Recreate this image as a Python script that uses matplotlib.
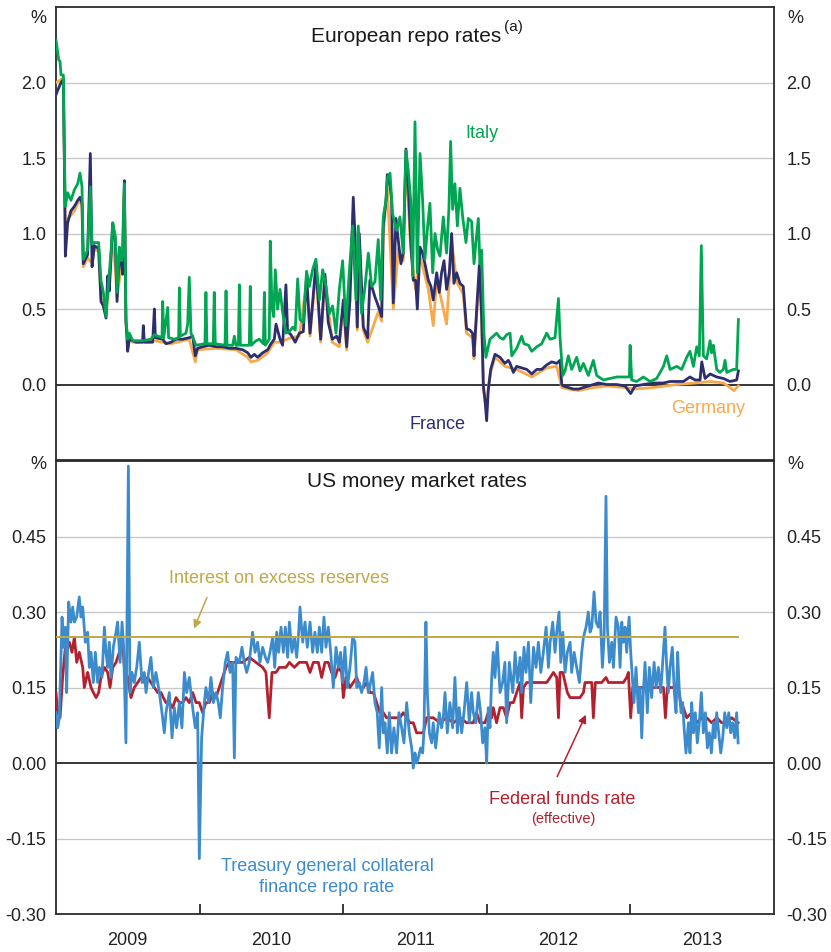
#Libraries
import numpy as np
import matplotlib
matplotlib.use("Agg")
import matplotlib.pyplot as plt

plt.rcParams['font.family'] = ['Liberation Sans', 'DejaVu Sans']

#Data (dates as decimal years)
italy_t = [2009.000, 2009.019, 2009.028, 2009.035, 2009.051, 2009.058, 2009.065, 2009.081, 2009.104, 2009.128,
           2009.151, 2009.167, 2009.181, 2009.190, 2009.220, 2009.239, 2009.251, 2009.267, 2009.297, 2009.313,
           2009.330, 2009.348, 2009.367, 2009.383, 2009.395, 2009.413, 2009.425, 2009.441, 2009.455, 2009.464,
           2009.476, 2009.487, 2009.499, 2009.511, 2009.534, 2009.603, 2009.661, 2009.685, 2009.738, 2009.743,
           2009.750, 2009.778, 2009.784, 2009.824, 2009.854, 2009.859, 2009.866, 2009.905, 2009.917, 2009.928,
           2009.940, 2009.975, 2010.037, 2010.044, 2010.051, 2010.095, 2010.102, 2010.109, 2010.177, 2010.184,
           2010.191, 2010.230, 2010.242, 2010.253, 2010.270, 2010.277, 2010.284, 2010.346, 2010.353, 2010.360,
           2010.393, 2010.416, 2010.444, 2010.451, 2010.458, 2010.485, 2010.492, 2010.504, 2010.516, 2010.527,
           2010.543, 2010.560, 2010.578, 2010.601, 2010.625, 2010.648, 2010.666, 2010.683,
           2010.699, 2010.722, 2010.745, 2010.764, 2010.787, 2010.810, 2010.834, 2010.857, 2010.880, 2010.903,
           2010.926, 2010.950, 2010.973, 2010.996, 2011.019, 2011.042, 2011.066, 2011.089, 2011.105, 2011.128,
           2011.152, 2011.175, 2011.198, 2011.221, 2011.244, 2011.261, 2011.279, 2011.298, 2011.309, 2011.326,
           2011.344, 2011.372, 2011.395, 2011.418, 2011.437, 2011.453, 2011.470, 2011.484, 2011.500, 2011.516,
           2011.535, 2011.553, 2011.569, 2011.588, 2011.604, 2011.623, 2011.639, 2011.658, 2011.674, 2011.697,
           2011.720, 2011.736, 2011.748, 2011.762, 2011.778, 2011.795, 2011.813, 2011.832, 2011.855, 2011.871,
           2011.894, 2011.911, 2011.924, 2011.941, 2011.952, 2011.964, 2011.980, 2011.994, 2012.022, 2012.045,
           2012.068, 2012.092, 2012.115, 2012.138,
           2012.162, 2012.174, 2012.208, 2012.243, 2012.259, 2012.290, 2012.313, 2012.348, 2012.382, 2012.417,
           2012.441, 2012.475, 2012.499, 2012.510, 2012.529, 2012.545, 2012.568, 2012.591, 2012.626, 2012.649,
           2012.673, 2012.707, 2012.742, 2012.765, 2012.812, 2012.858, 2012.905, 2012.963, 2012.993, 2012.998,
           2013.009, 2013.044, 2013.090, 2013.137, 2013.183, 2013.230, 2013.253, 2013.276, 2013.323, 2013.357,
           2013.392, 2013.415, 2013.439, 2013.462, 2013.480, 2013.494, 2013.508, 2013.531, 2013.555, 2013.566,
           2013.578, 2013.601, 2013.624, 2013.647, 2013.659, 2013.671, 2013.694, 2013.717, 2013.740, 2013.752]
italy_v = [2.28, 2.15, 2.14, 2.05, 2.05, 1.53, 1.18, 1.27, 1.22, 1.29,
           1.33, 1.40, 1.31, 0.83, 0.89, 1.31, 0.93, 0.94, 0.94, 0.69,
           0.61, 0.45, 0.69, 0.88, 1.07, 0.98, 0.61, 0.91, 0.82, 0.86,
           1.33, 0.43, 0.30, 0.34, 0.29, 0.29, 0.30, 0.33, 0.31, 0.55,
           0.31, 0.51, 0.31, 0.30, 0.31, 0.64, 0.32, 0.34, 0.40, 0.71,
           0.34, 0.26, 0.27, 0.61, 0.27, 0.27, 0.61, 0.27, 0.26, 0.62,
           0.26, 0.26, 0.32, 0.26, 0.26, 0.66, 0.26, 0.26, 0.65, 0.26,
           0.29, 0.30, 0.27, 0.61, 0.26, 0.30, 0.95, 0.51, 0.45, 0.76,
           0.50, 0.63, 0.48, 0.34, 0.35, 0.38, 0.36, 0.70,
           0.43, 0.41, 0.75, 0.65, 0.76, 0.83, 0.56, 0.76, 0.65, 0.47,
           0.52, 0.34, 0.63, 0.82, 0.39, 0.74, 1.05, 0.56, 1.05, 0.47,
           0.65, 0.87, 0.65, 0.68, 0.96, 0.56, 1.11, 1.22, 1.37, 1.40,
           1.13, 1.02, 1.11, 0.87, 1.55, 1.42, 1.22, 0.72, 1.74, 0.74,
           1.53, 1.22, 0.83, 1.05, 1.20, 0.74, 1.00, 0.89, 0.85, 1.11,
           0.87, 1.16, 1.61, 1.16, 1.33, 1.05, 1.30, 1.11, 0.94, 1.10,
           1.08, 0.80, 0.94, 1.10, 0.80, 0.89, 0.34, 0.18, 0.30, 0.32,
           0.34, 0.31, 0.30, 0.33,
           0.34, 0.19, 0.24, 0.32, 0.27, 0.26, 0.22, 0.25, 0.27, 0.34,
           0.30, 0.31, 0.57, 0.31, 0.06, 0.09, 0.19, 0.10, 0.18, 0.09,
           0.14, 0.06, 0.16, 0.06, 0.03, 0.04, 0.05, 0.05, 0.05, 0.26,
           0.03, 0.02, 0.05, 0.02, 0.04, 0.12, 0.19, 0.10, 0.12, 0.10,
           0.18, 0.22, 0.12, 0.25, 0.19, 0.92, 0.19, 0.17, 0.29, 0.21,
           0.26, 0.10, 0.08, 0.10, 0.16, 0.08, 0.09, 0.10, 0.10, 0.43]

france_t = [2009.000, 2009.012, 2009.035, 2009.051, 2009.058, 2009.065, 2009.081, 2009.104, 2009.128, 2009.151,
            2009.167, 2009.181, 2009.190, 2009.220, 2009.239, 2009.251, 2009.267, 2009.297, 2009.313, 2009.330,
            2009.348, 2009.360, 2009.371, 2009.383, 2009.395, 2009.413, 2009.425, 2009.441, 2009.455, 2009.464,
            2009.476, 2009.487, 2009.499, 2009.511, 2009.557, 2009.603, 2009.608, 2009.615, 2009.673, 2009.685,
            2009.692, 2009.743, 2009.766, 2009.801, 2009.836, 2009.882, 2009.928, 2009.952, 2009.970, 2009.986,
            2010.021, 2010.068, 2010.114, 2010.160, 2010.207, 2010.253, 2010.300, 2010.335, 2010.358, 2010.381,
            2010.404, 2010.439, 2010.474, 2010.497, 2010.520, 2010.532, 2010.543, 2010.560, 2010.578, 2010.601,
            2010.613, 2010.636, 2010.666, 2010.694,
            2010.722, 2010.745, 2010.769, 2010.810, 2010.843, 2010.873, 2010.896, 2010.924, 2010.954, 2010.973,
            2011.001, 2011.024, 2011.047, 2011.070, 2011.082, 2011.098, 2011.112, 2011.140, 2011.170, 2011.186,
            2011.221, 2011.244, 2011.268, 2011.279, 2011.298, 2011.307, 2011.326, 2011.337, 2011.349, 2011.367,
            2011.384, 2011.402, 2011.418, 2011.437, 2011.453, 2011.470, 2011.488, 2011.504, 2011.516, 2011.535,
            2011.553, 2011.569, 2011.593, 2011.611, 2011.627, 2011.651, 2011.669, 2011.685, 2011.702, 2011.720,
            2011.739, 2011.755, 2011.771, 2011.790, 2011.813, 2011.836, 2011.859, 2011.883, 2011.901, 2011.911,
            2011.929, 2011.948, 2011.964, 2011.976, 2011.987, 2011.999, 2012.010, 2012.027, 2012.057, 2012.092,
            2012.126, 2012.150,
            2012.162, 2012.185, 2012.208, 2012.243, 2012.278, 2012.313, 2012.348, 2012.382, 2012.417, 2012.452,
            2012.487, 2012.510, 2012.522, 2012.533, 2012.568, 2012.603, 2012.638, 2012.673, 2012.707, 2012.742,
            2012.777, 2012.835, 2012.905, 2012.963, 2013.002, 2013.032, 2013.090, 2013.160, 2013.230, 2013.276,
            2013.323, 2013.369, 2013.415, 2013.450, 2013.485, 2013.497, 2013.520, 2013.555, 2013.601, 2013.647,
            2013.694, 2013.740, 2013.752]
france_v = [1.92, 1.95, 2.00, 2.02, 1.50, 0.85, 1.07, 1.15, 1.18, 1.22,
            1.24, 1.20, 0.80, 0.86, 1.53, 0.78, 0.92, 0.90, 0.55, 0.52,
            0.44, 0.72, 0.62, 0.85, 1.07, 0.95, 0.55, 0.88, 0.80, 0.73,
            1.35, 0.42, 0.22, 0.30, 0.28, 0.28, 0.39, 0.28, 0.28, 0.50,
            0.31, 0.30, 0.27, 0.28, 0.30, 0.30, 0.31, 0.32, 0.19, 0.24,
            0.25, 0.26, 0.25, 0.25, 0.24, 0.24, 0.23, 0.21, 0.18, 0.20,
            0.18, 0.21, 0.23, 0.27, 0.30, 0.40, 0.36, 0.30, 0.26, 0.66,
            0.35, 0.33, 0.28, 0.34,
            0.35, 0.72, 0.34, 0.80, 0.30, 0.73, 0.41, 0.30, 0.32, 0.28,
            0.56, 0.25, 0.56, 1.24, 0.99, 0.38, 1.00, 0.38, 0.31, 0.69,
            0.58, 0.52, 0.45, 1.05, 1.22, 1.39, 1.32, 1.22, 0.54, 1.10,
            0.95, 0.80, 0.87, 1.56, 1.33, 0.95, 0.69, 0.69, 0.50, 0.91,
            0.87, 0.80, 0.69, 0.65, 0.56, 0.74, 0.61, 0.74, 0.82, 0.63,
            0.74, 1.00, 0.67, 0.74, 0.67, 0.65, 0.37, 0.36, 0.34, 0.19,
            0.49, 0.79, 0.46, -0.01, -0.10, -0.24, -0.04, 0.10, 0.20, 0.18,
            0.14, 0.16,
            0.14, 0.08, 0.12, 0.11, 0.10, 0.07, 0.10, 0.10, 0.13, 0.15,
            0.14, 0.16, 0.00, -0.01, -0.02, -0.03, -0.03, -0.02, -0.01, 0.00,
            0.01, 0.00, 0.00, -0.01, -0.06, -0.01, 0.00, 0.01, 0.01, 0.02,
            0.02, 0.02, 0.05, 0.03, 0.03, 0.15, 0.04, 0.07, 0.05, 0.04,
            0.02, 0.03, 0.09]

germany_t = [2009.000, 2009.051, 2009.058, 2009.065, 2009.081, 2009.104, 2009.128, 2009.151, 2009.167, 2009.181,
             2009.190, 2009.220, 2009.251, 2009.267, 2009.297, 2009.313, 2009.348, 2009.383, 2009.395, 2009.425,
             2009.455, 2009.476, 2009.487, 2009.499, 2009.534, 2009.685, 2009.801, 2009.928, 2009.970, 2009.986,
             2010.114, 2010.253, 2010.335, 2010.358, 2010.404, 2010.474, 2010.520, 2010.560, 2010.636, 2010.694,
             2010.745, 2010.769, 2010.810, 2010.843, 2010.873, 2010.924, 2010.973, 2011.001, 2011.024, 2011.070,
             2011.098, 2011.112, 2011.140, 2011.170, 2011.244, 2011.268, 2011.279, 2011.307, 2011.349, 2011.384,
             2011.418, 2011.437, 2011.470, 2011.504, 2011.535, 2011.593, 2011.627, 2011.651, 2011.720, 2011.755,
             2011.790, 2011.836, 2011.859, 2011.901, 2011.911, 2011.948, 2011.964, 2011.976, 2011.987, 2011.999,
             2012.010, 2012.027, 2012.057, 2012.126, 2012.208, 2012.313, 2012.417, 2012.487, 2012.522, 2012.568,
             2012.638, 2012.742, 2012.835, 2012.963, 2013.032, 2013.160, 2013.323, 2013.450, 2013.555, 2013.647,
             2013.694, 2013.720, 2013.752]
germany_v = [2.00, 2.03, 1.50, 1.05, 1.10, 1.12, 1.15, 1.20, 1.22, 1.18,
             0.78, 0.84, 0.80, 0.90, 0.88, 0.58, 0.46, 0.82, 1.02, 0.58,
             0.78, 1.30, 0.40, 0.33, 0.28, 0.29, 0.27, 0.30, 0.15, 0.23,
             0.24, 0.23, 0.18, 0.15, 0.16, 0.21, 0.28, 0.28, 0.31, 0.32,
             0.68, 0.32, 0.76, 0.28, 0.70, 0.28, 0.25, 0.52, 0.23, 1.15,
             0.36, 0.95, 0.36, 0.28, 0.48, 0.42, 1.00, 1.30, 0.50, 0.90,
             0.82, 1.50, 0.90, 0.63, 0.85, 0.63, 0.39, 0.70, 0.40, 0.95,
             0.68, 0.60, 0.34, 0.31, 0.17, 0.74, 0.42, -0.02, -0.11, -0.15,
             -0.02, 0.08, 0.18, 0.12, 0.10, 0.05, 0.11, 0.12, -0.02, -0.03,
             -0.04, -0.02, -0.01, -0.02, -0.03, -0.02, 0.00, 0.01, 0.02, 0.01,
             -0.02, -0.04, -0.01]

#Treasury general collateral repo rate
gc_t = [2009.000, 2009.012, 2009.023, 2009.042, 2009.051, 2009.065, 2009.074, 2009.088, 2009.104, 2009.116,
        2009.128, 2009.144, 2009.162, 2009.174, 2009.186, 2009.204, 2009.220, 2009.232, 2009.244, 2009.260,
        2009.274, 2009.290, 2009.302, 2009.320, 2009.337, 2009.348, 2009.360, 2009.371, 2009.383, 2009.399,
        2009.418, 2009.429, 2009.446, 2009.460, 2009.471, 2009.487, 2009.504, 2009.515, 2009.529, 2009.545,
        2009.562, 2009.580, 2009.599, 2009.615, 2009.627, 2009.645, 2009.661, 2009.678, 2009.696, 2009.720,
        2009.738, 2009.754, 2009.766, 2009.789, 2009.808, 2009.824, 2009.840, 2009.859, 2009.877, 2009.894,
        2009.910, 2009.928, 2009.947, 2009.970, 2009.986, 2009.998, 2010.014, 2010.033, 2010.044, 2010.063,
        2010.079, 2010.096, 2010.114, 2010.130, 2010.144, 2010.160, 2010.179, 2010.195, 2010.212, 2010.230,
        2010.242, 2010.253, 2010.277, 2010.295, 2010.311, 2010.328, 2010.346, 2010.369, 2010.386, 2010.404,
        2010.420, 2010.439, 2010.458, 2010.474, 2010.490, 2010.509, 2010.523, 2010.537, 2010.550, 2010.567,
        2010.583, 2010.597, 2010.613, 2010.625, 2010.643, 2010.660, 2010.676, 2010.690,
        2010.699, 2010.718, 2010.734, 2010.750, 2010.769, 2010.787, 2010.803, 2010.820, 2010.834, 2010.850,
        2010.866, 2010.880, 2010.896, 2010.913, 2010.931, 2010.950, 2010.966, 2010.982, 2010.996, 2011.012,
        2011.029, 2011.047, 2011.066, 2011.082, 2011.094, 2011.112, 2011.128, 2011.145, 2011.159, 2011.175,
        2011.191, 2011.205, 2011.221, 2011.237, 2011.251, 2011.268, 2011.279, 2011.291, 2011.307, 2011.321,
        2011.337, 2011.353, 2011.372, 2011.388, 2011.407, 2011.423, 2011.442, 2011.460, 2011.477, 2011.488,
        2011.500, 2011.511, 2011.523, 2011.539, 2011.553, 2011.562, 2011.576, 2011.586, 2011.600, 2011.616,
        2011.627, 2011.644, 2011.655, 2011.669, 2011.685, 2011.697, 2011.709, 2011.725, 2011.743, 2011.762,
        2011.778, 2011.795, 2011.808, 2011.825, 2011.841, 2011.860, 2011.878, 2011.894, 2011.906, 2011.924,
        2011.941, 2011.957, 2011.971, 2011.987, 2011.999, 2012.010, 2012.022, 2012.034, 2012.045, 2012.057,
        2012.073, 2012.092, 2012.110, 2012.126, 2012.138, 2012.157,
        2012.181, 2012.197, 2012.213, 2012.232, 2012.243, 2012.259, 2012.273, 2012.290, 2012.306, 2012.325,
        2012.343, 2012.359, 2012.376, 2012.394, 2012.413, 2012.429, 2012.441, 2012.459, 2012.475, 2012.487,
        2012.503, 2012.515, 2012.529, 2012.545, 2012.561, 2012.580, 2012.591, 2012.608, 2012.626, 2012.645,
        2012.661, 2012.673, 2012.691, 2012.707, 2012.719, 2012.731, 2012.747, 2012.761, 2012.777, 2012.789,
        2012.805, 2012.817, 2012.830, 2012.840, 2012.854, 2012.870, 2012.882, 2012.900, 2012.916, 2012.928,
        2012.940, 2012.951, 2012.963, 2012.974, 2012.991, 2013.002, 2013.016, 2013.025, 2013.039, 2013.056,
        2013.067, 2013.079, 2013.090, 2013.102, 2013.118, 2013.132, 2013.148, 2013.165, 2013.179, 2013.195,
        2013.211, 2013.225, 2013.241, 2013.253, 2013.264, 2013.276, 2013.292, 2013.306, 2013.318, 2013.329,
        2013.341, 2013.353, 2013.364, 2013.374, 2013.387, 2013.404, 2013.415, 2013.427, 2013.439, 2013.452,
        2013.466, 2013.480, 2013.494, 2013.508, 2013.522, 2013.536, 2013.550, 2013.564, 2013.578, 2013.589,
        2013.601, 2013.615, 2013.629, 2013.643, 2013.657, 2013.671, 2013.685, 2013.698, 2013.712, 2013.726,
        2013.740, 2013.750]
gc_v = [0.10, 0.07, 0.09, 0.29, 0.23, 0.27, 0.14, 0.32, 0.28, 0.31,
        0.28, 0.29, 0.33, 0.29, 0.31, 0.24, 0.26, 0.19, 0.22, 0.16,
        0.22, 0.16, 0.19, 0.17, 0.27, 0.22, 0.19, 0.24, 0.17, 0.23,
        0.26, 0.28, 0.20, 0.28, 0.23, 0.04, 0.59, 0.14, 0.18, 0.16,
        0.19, 0.24, 0.16, 0.18, 0.14, 0.18, 0.21, 0.15, 0.18, 0.14,
        0.10, 0.06, 0.10, 0.14, 0.05, 0.11, 0.07, 0.12, 0.07, 0.18,
        0.14, 0.17, 0.12, 0.07, 0.10, -0.19, 0.05, 0.12, 0.15, 0.12,
        0.17, 0.12, 0.14, 0.12, 0.09, 0.15, 0.20, 0.22, 0.18, 0.20,
        0.01, 0.21, 0.20, 0.23, 0.20, 0.18, 0.20, 0.26, 0.22, 0.24,
        0.20, 0.23, 0.21, 0.20, 0.22, 0.25, 0.19, 0.26, 0.22, 0.27,
        0.22, 0.27, 0.21, 0.28, 0.22, 0.25, 0.21, 0.26,
        0.31, 0.24, 0.28, 0.23, 0.28, 0.22, 0.26, 0.22, 0.27, 0.22,
        0.29, 0.23, 0.27, 0.22, 0.15, 0.23, 0.19, 0.22, 0.16, 0.23,
        0.15, 0.19, 0.25, 0.24, 0.15, 0.16, 0.14, 0.16, 0.19, 0.14,
        0.16, 0.18, 0.12, 0.10, 0.03, 0.15, 0.06, 0.08, 0.02, 0.10,
        0.02, 0.07, 0.02, 0.10, 0.07, 0.04, 0.12, 0.06, 0.03, -0.01,
        0.02, 0.00, 0.01, 0.03, 0.02, 0.06, 0.28, 0.14, 0.06, 0.04,
        0.08, 0.03, 0.06, 0.10, 0.07, 0.09, 0.14, 0.06, 0.12, 0.07,
        0.17, 0.06, 0.11, 0.06, 0.10, 0.16, 0.08, 0.14, 0.10, 0.08,
        0.14, 0.10, 0.04, 0.07, 0.00, 0.11, 0.07, 0.17, 0.22, 0.17,
        0.24, 0.14, 0.16, 0.20, 0.08, 0.20,
        0.14, 0.22, 0.16, 0.21, 0.14, 0.23, 0.18, 0.24, 0.12, 0.23,
        0.19, 0.24, 0.18, 0.22, 0.27, 0.19, 0.24, 0.28, 0.22, 0.26,
        0.30, 0.20, 0.26, 0.18, 0.22, 0.24, 0.18, 0.22, 0.19, 0.16,
        0.22, 0.25, 0.27, 0.30, 0.26, 0.27, 0.34, 0.28, 0.27, 0.30,
        0.19, 0.25, 0.53, 0.27, 0.20, 0.24, 0.19, 0.29, 0.27, 0.19,
        0.28, 0.24, 0.27, 0.22, 0.29, 0.22, 0.16, 0.12, 0.19, 0.10,
        0.15, 0.05, 0.14, 0.20, 0.10, 0.19, 0.13, 0.20, 0.15, 0.19,
        0.14, 0.20, 0.27, 0.19, 0.14, 0.19, 0.23, 0.14, 0.10, 0.22,
        0.14, 0.10, 0.12, 0.07, 0.02, 0.08, 0.02, 0.12, 0.06, 0.10,
        0.04, 0.08, 0.14, 0.06, 0.10, 0.03, 0.06, 0.02, 0.08, 0.05,
        0.10, 0.06, 0.02, 0.05, 0.10, 0.07, 0.10, 0.06, 0.08, 0.05,
        0.10, 0.04]

#Effective federal funds rate
ffr_t = [2009.000, 2009.012, 2009.028, 2009.046, 2009.065, 2009.093, 2009.111, 2009.128, 2009.144, 2009.162,
         2009.186, 2009.197, 2009.220, 2009.244, 2009.260, 2009.279, 2009.297, 2009.313, 2009.337, 2009.360,
         2009.376, 2009.395, 2009.418, 2009.441, 2009.460, 2009.476, 2009.499, 2009.522, 2009.545, 2009.569,
         2009.592, 2009.615, 2009.638, 2009.661, 2009.685, 2009.708, 2009.731, 2009.747, 2009.766, 2009.789,
         2009.812, 2009.836, 2009.859, 2009.882, 2009.905, 2009.928, 2009.952, 2009.975, 2009.998, 2010.021,
         2010.044, 2010.068, 2010.091, 2010.114, 2010.137, 2010.160, 2010.184, 2010.207, 2010.253, 2010.300,
         2010.346, 2010.393, 2010.439, 2010.462, 2010.485, 2010.504, 2010.532, 2010.555, 2010.601, 2010.625,
         2010.660, 2010.694,
         2010.722, 2010.745, 2010.769, 2010.792, 2010.827, 2010.850, 2010.873, 2010.896, 2010.919, 2010.943,
         2010.966, 2010.989, 2011.001, 2011.019, 2011.047, 2011.070, 2011.094, 2011.117, 2011.140, 2011.163,
         2011.186, 2011.210, 2011.233, 2011.256, 2011.279, 2011.302, 2011.349, 2011.395, 2011.418, 2011.442,
         2011.465, 2011.488, 2011.511, 2011.535, 2011.558, 2011.581, 2011.627, 2011.674, 2011.720, 2011.767,
         2011.813, 2011.859, 2011.906, 2011.929, 2011.952, 2011.987, 2012.010, 2012.034, 2012.045, 2012.068,
         2012.092, 2012.115, 2012.138, 2012.162,
         2012.185, 2012.208, 2012.232, 2012.243, 2012.255, 2012.278, 2012.325, 2012.371, 2012.417, 2012.441,
         2012.464, 2012.487, 2012.499, 2012.510, 2012.529, 2012.545, 2012.561, 2012.580, 2012.649, 2012.673,
         2012.684, 2012.731, 2012.742, 2012.756, 2012.800, 2012.830, 2012.847, 2012.951, 2012.974, 2012.986,
         2013.002, 2013.016, 2013.090, 2013.183, 2013.230, 2013.244, 2013.257, 2013.334, 2013.350, 2013.369,
         2013.392, 2013.427, 2013.462, 2013.497, 2013.531, 2013.566, 2013.601, 2013.636, 2013.671, 2013.705,
         2013.750]
ffr_v = [0.14, 0.10, 0.09, 0.17, 0.23, 0.24, 0.22, 0.25, 0.20, 0.22,
         0.19, 0.15, 0.18, 0.15, 0.14, 0.13, 0.14, 0.17, 0.19, 0.18,
         0.15, 0.19, 0.20, 0.22, 0.25, 0.19, 0.17, 0.13, 0.15, 0.16,
         0.17, 0.16, 0.17, 0.16, 0.15, 0.14, 0.14, 0.13, 0.12, 0.12,
         0.11, 0.13, 0.12, 0.12, 0.13, 0.12, 0.14, 0.12, 0.12, 0.10,
         0.12, 0.12, 0.14, 0.13, 0.15, 0.17, 0.19, 0.20, 0.20, 0.20,
         0.21, 0.20, 0.19, 0.18, 0.09, 0.18, 0.18, 0.19, 0.19, 0.20,
         0.19, 0.20,
         0.20, 0.20, 0.18, 0.20, 0.20, 0.17, 0.20, 0.20, 0.18, 0.17,
         0.19, 0.18, 0.13, 0.17, 0.15, 0.16, 0.17, 0.15, 0.15, 0.16,
         0.14, 0.14, 0.12, 0.10, 0.10, 0.09, 0.09, 0.09, 0.10, 0.09,
         0.08, 0.08, 0.06, 0.06, 0.06, 0.09, 0.09, 0.08, 0.09, 0.08,
         0.09, 0.08, 0.08, 0.10, 0.08, 0.08, 0.10, 0.09, 0.11, 0.08,
         0.11, 0.11, 0.09, 0.12,
         0.12, 0.14, 0.16, 0.09, 0.15, 0.16, 0.16, 0.16, 0.16, 0.17,
         0.18, 0.17, 0.09, 0.18, 0.18, 0.16, 0.14, 0.13, 0.13, 0.14,
         0.16, 0.16, 0.09, 0.16, 0.16, 0.17, 0.16, 0.16, 0.17, 0.18,
         0.09, 0.15, 0.15, 0.15, 0.15, 0.09, 0.15, 0.15, 0.12, 0.11,
         0.09, 0.10, 0.08, 0.09, 0.09, 0.08, 0.09, 0.08, 0.08, 0.09,
         0.08]

#Interest on excess reserves
ioer_t = [2009.000, 2013.750]
ioer_v = [0.25, 0.25]

#Colours
c_italy = '#00a651'
c_france = '#2d2e6e'
c_germany = '#f8a94a'
c_gc = '#3c8bcd'
c_ffr = '#b5202e'
c_ioer = '#bfa847'
c_grid = '#c8c8c8'
c_frame = '#2b2b2b'
lw_series = 2.0

fig = plt.figure(figsize=(8.31, 9.52), dpi=100)
ax1 = fig.add_axes([0.0674, 0.5168, 0.864, 0.4758])
ax2 = fig.add_axes([0.0674, 0.0399, 0.864, 0.4758])

def style_panel(ax, ylim, ticks, fmt):
    ax.set_xlim(2009.0, 2014.0)
    ax.set_ylim(*ylim)
    ax.set_yticks(ticks)
    ax.set_yticklabels([fmt % t for t in ticks])
    for t in ticks:
        if abs(t) < 1e-9:
            ax.axhline(t, color='black', lw=1.1, zorder=1)
        elif t > ylim[0] + 1e-9:
            ax.axhline(t, color=c_grid, lw=1.0, zorder=0)
    ax.tick_params(axis='y', length=0, labelsize=13, pad=7, colors='#222222')
    for s in ax.spines.values():
        s.set_color(c_frame)
        s.set_linewidth(1.3)
    #right hand labels
    axr = ax.twinx()
    axr.set_ylim(*ylim)
    axr.set_yticks(ticks)
    axr.set_yticklabels([fmt % t for t in ticks])
    axr.tick_params(axis='y', length=0, labelsize=13, pad=9, colors='#222222')
    for s in axr.spines.values():
        s.set_visible(False)
    return axr

#Top panel - European repo rates
style_panel(ax1, (-0.5, 2.5), [0.0, 0.5, 1.0, 1.5, 2.0], '%.1f')
ax1.plot(germany_t, germany_v, color=c_germany, lw=lw_series, zorder=3)
ax1.plot(france_t, france_v, color=c_france, lw=lw_series, zorder=4)
ax1.plot(italy_t, italy_v, color=c_italy, lw=lw_series, zorder=5)
ax1.set_xticks([])
ax1.text(0.4875, 0.934, 'European repo rates', transform=ax1.transAxes,
         ha='center', va='center', fontsize=15, color='#1a1a1a')
ax1.text(0.6245, 0.957, '(a)', transform=ax1.transAxes,
         ha='left', va='center', fontsize=11, color='#1a1a1a')
ax1.text(2011.967, 1.66, 'Italy', color=c_italy, fontsize=13, ha='center', va='center')
ax1.text(2011.660, -0.264, 'France', color=c_france, fontsize=13, ha='center', va='center')
ax1.text(2013.540, -0.159, 'Germany', color=c_germany, fontsize=13, ha='center', va='center')

#Bottom panel - US money market rates
bticks = [-0.30, -0.15, 0.00, 0.15, 0.30, 0.45]
style_panel(ax2, (-0.30, 0.60), bticks, '%.2f')
ax2.plot(ffr_t, ffr_v, color=c_ffr, lw=lw_series, zorder=3)
ax2.plot(gc_t, gc_v, color=c_gc, lw=lw_series, zorder=4)
ax2.plot(ioer_t, ioer_v, color=c_ioer, lw=1.4, zorder=5)
ax2.set_xticks([2010, 2011, 2012, 2013])
ax2.set_xticklabels([])
ax2.set_xticks([2009.5, 2010.5, 2011.5, 2012.5, 2013.5], minor=True)
ax2.set_xticklabels(['2009', '2010', '2011', '2012', '2013'], minor=True)
ax2.tick_params(axis='x', which='major', direction='in', length=7, width=1.3, color=c_frame)
ax2.tick_params(axis='x', which='minor', length=0, labelsize=13, pad=13, colors='#222222')
ax2.text(0.503, 0.954, 'US money market rates', transform=ax2.transAxes,
         ha='center', va='center', fontsize=15, color='#1a1a1a')
ax2.text(2010.553, 0.366, 'Interest on excess reserves', color=c_ioer, fontsize=13,
         ha='center', va='center')
ax2.annotate('', xy=(2009.954, 0.262), xytext=(2010.058, 0.334),
             arrowprops=dict(arrowstyle='-|>', color=c_ioer, lw=1.1, mutation_scale=12))
ax2.text(2012.524, -0.072, 'Federal funds rate', color=c_ffr, fontsize=13,
         ha='center', va='center')
ax2.text(2012.530, -0.111, '(effective)', color=c_ffr, fontsize=10.5,
         ha='center', va='center')
ax2.annotate('', xy=(2012.698, 0.101), xytext=(2012.482, -0.032),
             arrowprops=dict(arrowstyle='-|>', color=c_ffr, lw=1.1, mutation_scale=12))
ax2.text(2010.887, -0.205, 'Treasury general collateral', color=c_gc, fontsize=13,
         ha='center', va='center')
ax2.text(2010.887, -0.248, 'finance repo rate', color=c_gc, fontsize=13,
         ha='center', va='center')

#Percent signs
for yy in [0.981, 0.5126]:
    fig.text(0.0457, yy, '%', fontsize=13, ha='center', va='center', color='#222222')
    fig.text(0.957, yy, '%', fontsize=13, ha='center', va='center', color='#222222')

fig.savefig('out.png', dpi=100)
